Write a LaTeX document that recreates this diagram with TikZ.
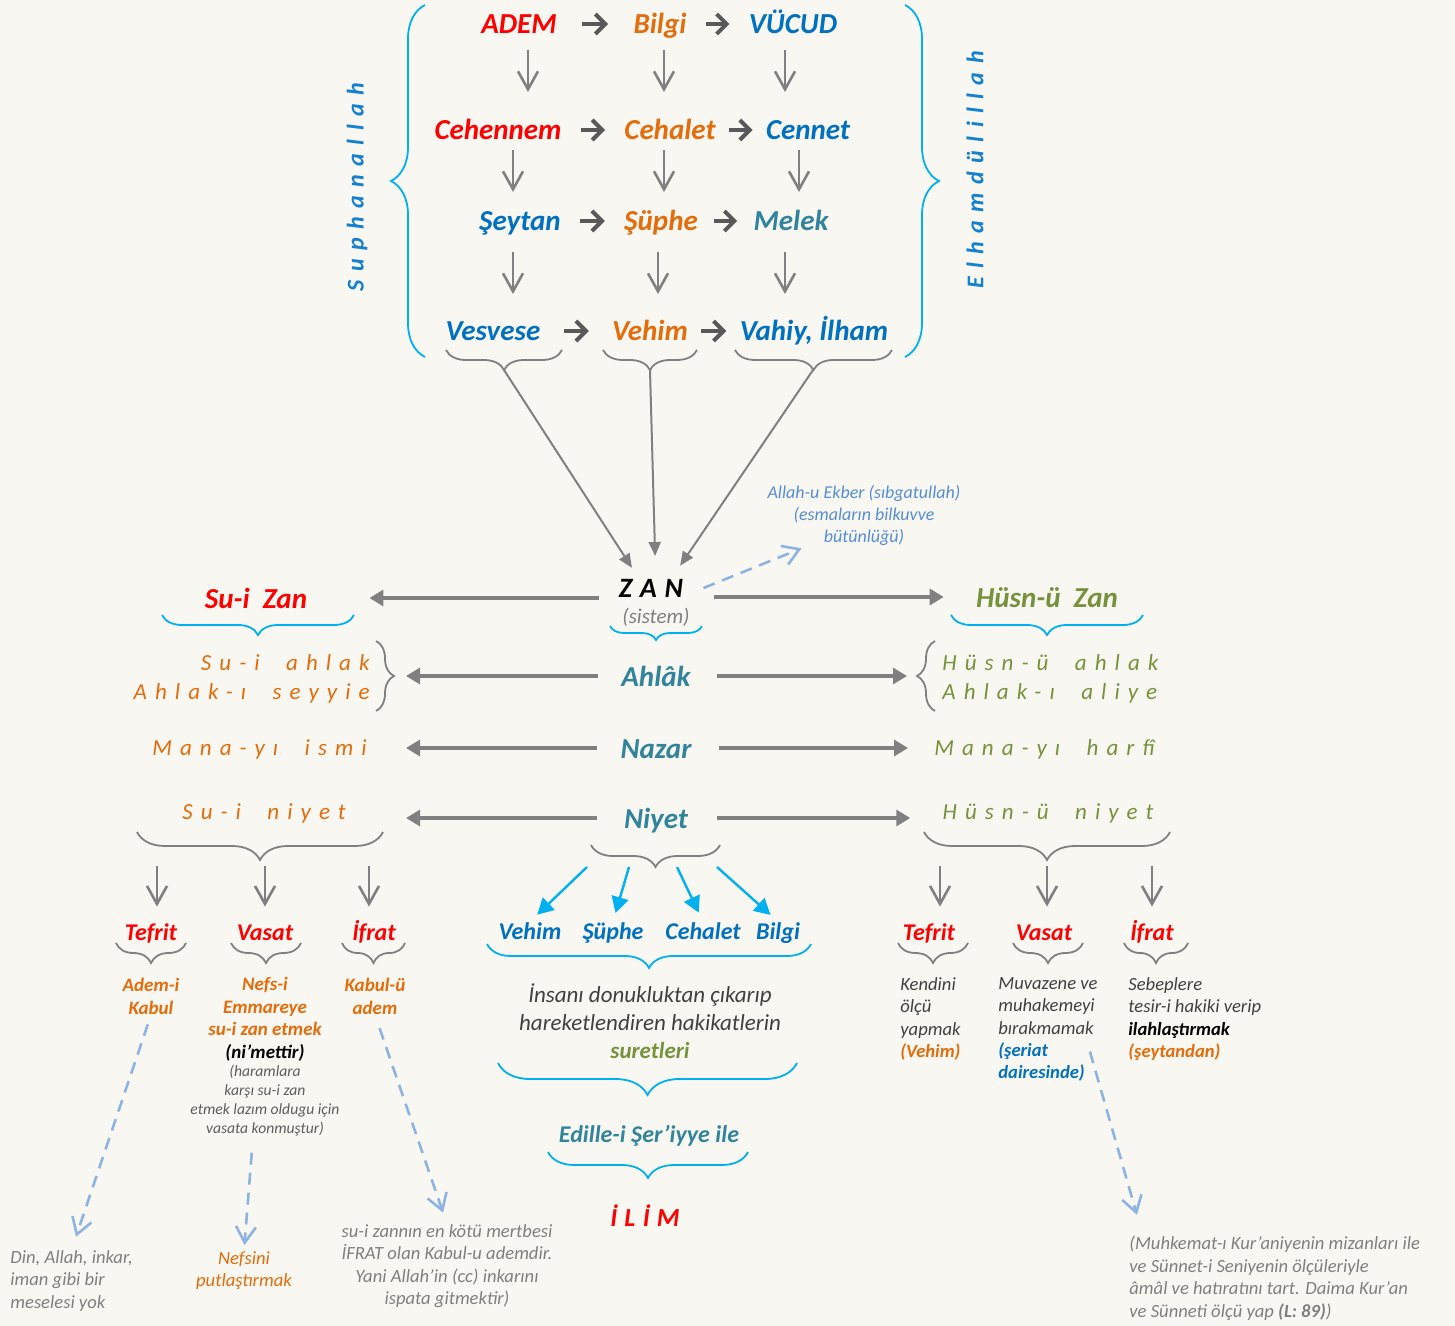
\documentclass[tikz,border=0pt]{standalone}
\usepackage{fontspec}
\setmainfont{Carlito}
\newfontfamily\aralikli[LetterSpace=35]{Carlito}
\newfontfamily\genis[LetterSpace=28]{Carlito}
\usetikzlibrary{arrows.meta,decorations.pathreplacing}
\definecolor{kirmizi}{HTML}{FF0000}
\definecolor{turuncu}{HTML}{E46C0A}
\definecolor{mavi}{HTML}{0070C0}
\definecolor{petrol}{HTML}{31849B}
\definecolor{yesil}{HTML}{76923C}
\definecolor{acikmavi}{HTML}{00B0F0}
\definecolor{gri}{HTML}{808080}
\definecolor{koyuok}{HTML}{595959}
\definecolor{kesik}{HTML}{8DB3E2}
\definecolor{notgri}{HTML}{7F7F7F}
\definecolor{koyugri}{HTML}{404040}
\definecolor{yanmavi}{HTML}{1380D0}
\definecolor{ekber}{HTML}{558ED5}
\definecolor{zemin}{HTML}{F9F7F2}
\begin{document}
\begin{tikzpicture}[x=0.5pt,y=-0.5pt,
  kelime/.style={font=\fontsize{14.5}{17}\selectfont\bfseries\itshape, inner sep=0pt, text height=13pt, text depth=3pt},
  baslik/.style={font=\fontsize{12}{14}\selectfont\bfseries\itshape, inner sep=0pt, text height=8.5pt, text depth=2.5pt},
  altyazi/.style={font=\fontsize{9.5}{11.3}\selectfont\bfseries\itshape, inner sep=0pt, align=center, anchor=north},
  notyazi/.style={font=\fontsize{9.3}{11.2}\selectfont\itshape, inner sep=0pt},
  aralik/.style={font=\aralikli\fontsize{11.5}{14.5}\selectfont\itshape, inner sep=0pt},
  sagok/.style={koyuok, line width=2pt, -{Straight Barb[length=5pt,width=10pt]}, shorten <=#1, shorten >=#1},
  asagi/.style 2 args={gri, line width=1.3pt, -{Straight Barb[length=9pt,width=10pt]}, shorten <=#1, shorten >=#2},
  yatay/.style 2 args={gri, line width=1.6pt, -{Triangle[length=7pt,width=8pt]}, shorten <=#1, shorten >=#2},
  toplu/.style={gri, line width=1pt, -{Triangle[length=7pt,width=6pt]}, shorten >=#1},
  maviok/.style={acikmavi, line width=1.2pt, -{Triangle[length=8pt,width=8.5pt]}, shorten >=#1},
  kesikok/.style 2 args={kesik, line width=1.3pt, dash pattern=on 6pt off 4pt, -{Straight Barb[length=8pt,width=10pt]}, shorten <=#1, shorten >=#2},
  mparantez/.style={acikmavi, line width=0.9pt, decorate, decoration={brace, mirror, amplitude=#1}},
  gparantez/.style={gri, line width=0.9pt, decorate, decoration={brace, mirror, amplitude=#1}}]
\fill[zemin] (0,0) rectangle (1455,1326);
\useasboundingbox (0,0) rectangle (1455,1326);
% ust blok
\node[kelime,kirmizi] (adem) at (519,24) {ADEM};
\node[kelime,turuncu] (bilgi) at (660,24) {Bilgi};
\node[kelime,mavi] (vucud) at (793,24) {VÜCUD};
\node[kelime,kirmizi] (cehennem) at (498,130) {Cehennem};
\node[kelime,turuncu] (cehalet) at (670,130) {Cehalet};
\node[kelime,mavi] (cennet) at (808,130) {Cennet};
\node[kelime,mavi] (seytan) at (520,221) {Şeytan};
\node[kelime,turuncu] (suphe) at (661,221) {Şüphe};
\node[kelime,petrol] (melek) at (791,221) {Melek};
\node[kelime,mavi] (vesvese) at (493,331) {Vesvese};
\node[kelime,turuncu] (vehim) at (650,331) {Vehim};
\node[kelime,mavi] (vahiy) at (814,331) {Vahiy, İlham};
\draw[sagok=12.5pt] (adem.east) -- (bilgi.west);
\draw[sagok=9.5pt] (bilgi.east) -- (vucud.west);
\draw[sagok=9.5pt] (cehennem.east) -- (cehalet.west);
\draw[sagok=6.5pt] (cehalet.east) -- (cennet.west);
\draw[sagok=9.5pt] (seytan.east) -- (suphe.west);
\draw[sagok=8pt] (suphe.east) -- (melek.west);
\draw[sagok=11.5pt] (vesvese.east) -- (vehim.west);
\draw[sagok=6.5pt] (vehim.east) -- (vahiy.west);
\draw[asagi={13pt}{19pt}] ([xshift=4.5pt]adem.center) -- ([xshift=4.5pt]adem.center |- cehennem.center);
\draw[asagi={13pt}{19pt}] ([xshift=2pt]bilgi.center) -- ([xshift=2pt]bilgi.center |- cehalet.center);
\draw[asagi={13pt}{19pt}] ([xshift=-4pt]vucud.center) -- ([xshift=-4pt]vucud.center |- cennet.center);
\draw[asagi={10pt}{14.5pt}] ([xshift=7.5pt]cehennem.center) -- ([xshift=7.5pt]cehennem.center |- seytan.center);
\draw[asagi={10pt}{14.5pt}] ([xshift=-3pt]cehalet.center) -- ([xshift=-3pt]cehalet.center |- suphe.center);
\draw[asagi={10pt}{14.5pt}] ([xshift=-4.5pt]cennet.center) -- ([xshift=-4.5pt]cennet.center |- melek.center);
\draw[asagi={15.5pt}{18.5pt}] ([xshift=-3.5pt]seytan.center) -- ([xshift=-3.5pt]seytan.center |- vesvese.center);
\draw[asagi={15.5pt}{18.5pt}] ([xshift=-1.5pt]suphe.center) -- ([xshift=-1.5pt]suphe.center |- vehim.center);
\draw[asagi={15.5pt}{18.5pt}] ([xshift=-3pt]melek.center) -- ([xshift=-3pt]melek.center |- vahiy.center);
\draw[mparantez=17pt] (425,5) -- (425,357);
\draw[mparantez=17pt] (905,357) -- (905,5);
\node[font=\aralikli\fontsize{12}{14}\selectfont\bfseries\itshape, yanmavi, rotate=90] (suphan) at (357,187) {Suphanallah};
\node[font=\aralikli\fontsize{12}{14}\selectfont\bfseries\itshape, yanmavi, rotate=90] (elham) at (975,170) {Elhamdülillah};
\draw[gparantez=10pt] (446,350) -- (562,350);
\draw[gparantez=10pt] (603,350) -- (697,350);
\draw[gparantez=10pt] (735,350) -- (892,350);
\coordinate (vesuc) at (504,370);
\coordinate (vehuc) at (650,370);
\coordinate (vahuc) at (813,370);
% zan
\node[font=\genis\fontsize{14}{17}\selectfont\bfseries\itshape, inner xsep=10pt, inner ysep=0pt] (zan) at (651,588) {ZAN};
\node[font=\fontsize{10.5}{12}\selectfont\itshape, notgri, inner sep=0pt] (sistem) at (656,617) {(sistem)};
\draw[mparantez=7pt] (610,626) -- (702,626);
\draw[toplu=12pt] (vesuc) -- ([xshift=-3pt]zan.center);
\draw[toplu=16pt] (vehuc) -- ([xshift=2.5pt]zan.center);
\draw[toplu=13.5pt] (vahuc) -- ([xshift=7pt]zan.center);
\node[font=\fontsize{9}{11}\selectfont\itshape, ekber, align=center, anchor=north, inner sep=0pt] (allah) at (864,485) {Allah-u Ekber (sıbgatullah)\\(esmaların bilkuvve\\bütünlüğü)};
\draw[kesikok={0pt}{3pt}] (zan.east) -- ([xshift=20pt]allah.south west);
% iki yan
\node[kelime,kirmizi] (suizan) at (256,598) {Su-i~ Zan};
\node[kelime,yesil] (husnuzan) at (1047,597) {Hüsn-ü~ Zan};
\draw[mparantez=10pt] (162,615) -- (354,615);
\draw[mparantez=10pt] (951,615) -- (1143,615);
\draw[yatay={0pt}{31pt}] (zan.west |- suizan) -- (suizan);
\draw[yatay={5pt}{16pt}] (zan.east |- husnuzan) -- (husnuzan);
\node[kelime,petrol] (ahlak) at (656,676) {Ahlâk};
\node[aralik,turuncu,align=right,anchor=east] (suiahlak) at (370,679) {Su-i~ ahlak\\Ahlak-ı~ seyyie};
\node[aralik,yesil,align=left,anchor=west] (husnuahlak) at (942,679) {Hüsn-ü~ ahlak\\Ahlak-ı~ aliye};
\draw[gparantez=9pt] (376,711) -- (376,641);
\draw[gparantez=9pt] (935,641) -- (935,711);
\coordinate (sauc) at (394,676);
\coordinate (hauc) at (917,676);
\draw[yatay={11.5pt}{6pt}] (ahlak.west) -- (sauc);
\draw[yatay={13pt}{5pt}] (ahlak.east) -- (hauc);
\node[kelime,petrol] (nazar) at (656,748) {Nazar};
\node[aralik,turuncu,anchor=east] (manaismi) at (367,749) {Mana-yı~ ismi};
\node[aralik,yesil,anchor=west] (manaharfi) at (934,749) {Mana-yı~ harfî};
\draw[yatay={11.5pt}{19.5pt}] (nazar.west) -- (nazar.west -| manaismi.east);
\draw[yatay={13.5pt}{13pt}] (nazar.east) -- (nazar.east -| manaharfi.west);
\node[kelime,petrol] (niyet) at (656,818) {Niyet};
\node[aralik,turuncu] (suiniyet) at (264,813) {Su-i~ niyet};
\node[aralik,yesil] (husnuniyet) at (1048,813) {Hüsn-ü~ niyet};
\draw[yatay={13.5pt}{30pt}] (niyet.west) -- (niyet.west -| suiniyet.east);
\draw[yatay={14.5pt}{16pt}] (niyet.east) -- (niyet.east -| husnuniyet.west);
\draw[gparantez=14pt] (137,832) -- (383,832);
\draw[gparantez=14pt] (924,832) -- (1170,832);
\draw[gparantez=11pt] (591,845) -- (720,845);
\coordinate (sniuc) at (260,860);
\coordinate (hniuc) at (1047,860);
\coordinate (nyuc) at (655,867);
% sol alt
\node[baslik,kirmizi] (tefritL) at (151,934) {Tefrit};
\node[baslik,kirmizi] (vasatL) at (265,934) {Vasat};
\node[baslik,kirmizi] (ifratL) at (374,934) {İfrat};
\draw[asagi={3pt}{8pt}] ([xshift=3pt]tefritL.north |- sniuc) -- ([xshift=3pt]tefritL.north);
\draw[asagi={3pt}{8pt}] (vasatL.north |- sniuc) -- (vasatL.north);
\draw[asagi={3pt}{8pt}] ([xshift=-2.5pt]ifratL.north |- sniuc) -- ([xshift=-2.5pt]ifratL.north);
\draw[gparantez=10pt] (116,943) -- (186,943);
\draw[gparantez=10pt] (231,943) -- (301,943);
\draw[gparantez=10pt] (342,943) -- (405,943);
\node[altyazi,turuncu] (ademkabul) at (151,978) {Adem-i\\Kabul};
\node[altyazi,turuncu] (vasatyazi) at (265,977) {Nefs-i\\Emmareye\\su-i zan etmek\\\textcolor{black}{(ni’mettir)}};
\node[font=\fontsize{7.8}{9.5}\selectfont\itshape, color=koyugri!85, align=center, anchor=north, inner sep=0pt] (vasatnot) at (265,1065) {(haramlara\\karşı su-i zan\\etmek lazım oldugu için\\vasata konmuştur)};
\node[altyazi,turuncu] (kabuladem) at (375,978) {Kabul-ü\\adem};
\node[notyazi,notgri,align=left,anchor=north west] (dinallah) at (10,1250) {Din, Allah, inkar,\\iman gibi bir\\meselesi yok};
\node[notyazi,turuncu,align=center,anchor=north] (nefsini) at (244,1251) {Nefsini\\putlaştırmak};
\node[notyazi,notgri,align=center,anchor=north] (ifratnot) at (447,1224) {su-i zannın en kötü mertbesi\\İFRAT olan Kabul-u ademdir.\\Yani Allah’in (cc) inkarını\\ispata gitmektir)};
\draw[kesikok={5pt}{7pt}] (ademkabul.south) -- (dinallah.north);
\draw[kesikok={8pt}{3pt}] ([xshift=-6pt]vasatnot.south) -- (nefsini.north);
\draw[kesikok={7pt}{6pt}] (kabuladem.south) -- (ifratnot.north);
% orta alt
\node[baslik,mavi] (vehimB) at (530,933) {Vehim};
\node[baslik,mavi] (supheB) at (613,933) {Şüphe};
\node[baslik,mavi] (cehaletB) at (703,933) {Cehalet};
\node[baslik,mavi] (bilgiB) at (778,933) {Bilgi};
\draw[maviok=5pt] ([xshift=-34pt]nyuc) -- (vehimB.north);
\draw[maviok=4.5pt] ([xshift=-13pt]nyuc) -- (supheB.north);
\draw[maviok=5pt] ([xshift=11pt]nyuc) -- (cehaletB.north);
\draw[maviok=5pt] ([xshift=31pt]nyuc) -- (bilgiB.north);
\draw[mparantez=12pt] (487,944) -- (811,944);
\node[font=\fontsize{11.5}{14}\selectfont\itshape, koyugri, align=center, anchor=north, inner sep=0pt] (insani) at (650,983) {İnsanı donukluktan çıkarıp\\hareketlendiren hakikatlerin\\\textbf{\textcolor{yesil}{suretleri}}};
\draw[mparantez=16pt] (498,1063) -- (797,1063);
\node[baslik,petrol] (edille) at (649,1136) {Edille-i Şer’iyye ile};
\draw[mparantez=13pt] (548,1152) -- (748,1152);
\node[font=\genis\fontsize{13}{15}\selectfont\bfseries\itshape, kirmizi, inner sep=0pt] (ilim) at (645,1216) {İLİM};
% sag alt
\node[baslik,kirmizi] (tefritR) at (929,934) {Tefrit};
\node[baslik,kirmizi] (vasatR) at (1044,934) {Vasat};
\node[baslik,kirmizi] (ifratR) at (1152,934) {İfrat};
\draw[asagi={3pt}{8pt}] ([xshift=5.5pt]tefritR.north |- hniuc) -- ([xshift=5.5pt]tefritR.north);
\draw[asagi={3pt}{8pt}] ([xshift=1.5pt]vasatR.north |- hniuc) -- ([xshift=1.5pt]vasatR.north);
\draw[asagi={3pt}{8pt}] (ifratR.north |- hniuc) -- (ifratR.north);
\draw[gparantez=10pt] (898,943) -- (968,943);
\draw[gparantez=10pt] (1013,943) -- (1083,943);
\draw[gparantez=10pt] (1124,943) -- (1188,943);
\node[notyazi,koyugri,align=left,anchor=north west] (kendini) at (900,977) {Kendini\\ölçü\\yapmak\\\textbf{\textcolor{turuncu}{(Vehim)}}};
\node[notyazi,koyugri,align=left,anchor=north west] (muvazene) at (998,977) {Muvazene ve\\muhakemeyi\\bırakmamak\\\textbf{\textcolor{mavi}{(şeriat}}\\\textbf{\textcolor{mavi}{dairesinde)}}};
\node[notyazi,koyugri,align=left,anchor=north west] (sebeplere) at (1128,977) {Sebeplere\\tesir-i hakiki verip\\\textbf{\textcolor{black}{ilahlaştırmak}}\\\textbf{\textcolor{turuncu}{(şeytandan)}}};
\node[notyazi,notgri,align=left,anchor=north west] (muhkemat) at (1129,1236) {(Muhkemat-ı Kur’aniyenin mizanları ile\\ve Sünnet-i Seniyenin ölçüleriyle\\âmâl ve hatıratını tart. Daima Kur’an\\ve Sünneti ölçü yap \textbf{(L: 89)})};
\draw[kesikok={0pt}{11pt}] ([shift={(-4pt,-11pt)}]muvazene.east) -- ([xshift=7pt]muhkemat.north west);
\end{tikzpicture}
\end{document}
